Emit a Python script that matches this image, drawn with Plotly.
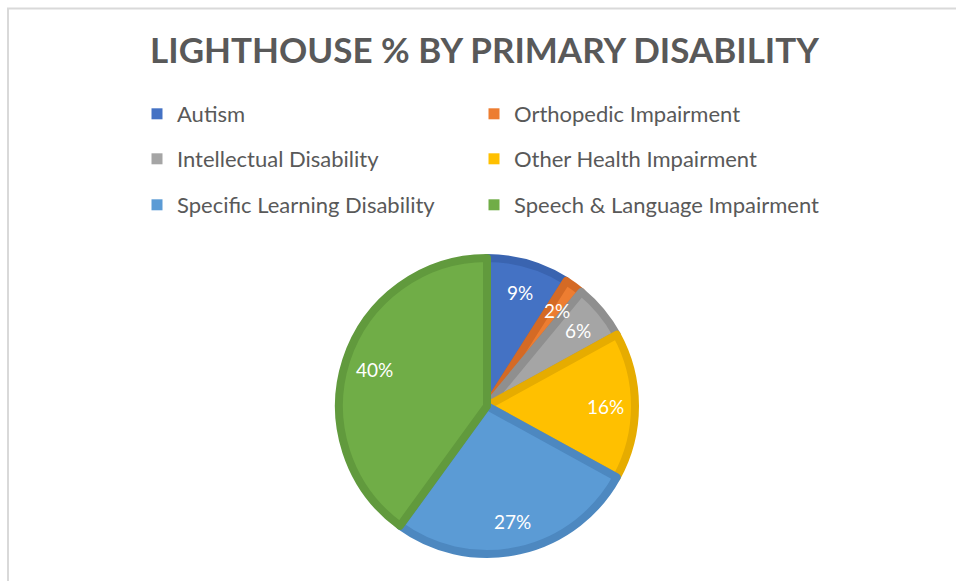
import math
import plotly.graph_objects as go

# ---- data ----
categories = [
    "Autism",
    "Orthopedic Impairment",
    "Intellectual Disability",
    "Other Health Impairment",
    "Specific Learning Disability",
    "Speech & Language Impairment",
]
percent_values = [9, 2, 6, 16, 27, 40]
fill_colors = ["#4472C4", "#ED7D31", "#A5A5A5", "#FFC000", "#5B9BD5", "#70AD47"]
edge_colors = ["#3A64B0", "#D46A25", "#8F8F8F", "#E6AC00", "#4D88C0", "#619A3D"]
title_text = "LIGHTHOUSE % BY PRIMARY DISABILITY"

W, H = 956, 581
TEXT_GREY = "#595959"

# pie geometry (pixels)
cx, cy, R = 487, 406, 148
edge_w = 8

dom_x = [(cx - R) / W, (cx + R) / W]
dom_y = [(H - cy - R) / H, (H - cy + R) / H]

fig = go.Figure()
fig.add_trace(go.Pie(
    labels=categories,
    values=percent_values,
    sort=False,
    direction="clockwise",
    rotation=0,
    marker=dict(colors=fill_colors, line=dict(color=edge_colors, width=edge_w)),
    textinfo="none",
    hoverinfo="label+percent",
    showlegend=False,
    domain=dict(x=dom_x, y=dom_y),
))

# data labels placed at each slice's mid-angle
total = sum(percent_values)
cum = 0
annotations = []
for v in percent_values:
    mid = (cum + v / 2) / total * 2 * math.pi
    cum += v
    r = 0.8 * R
    px = cx + r * math.sin(mid)
    py = cy - r * math.cos(mid)
    annotations.append(dict(
        x=px / W, y=1 - py / H, xref="paper", yref="paper",
        text=f"{v}%", showarrow=False,
        font=dict(family="Lato", size=19, color="white"),
        xanchor="center", yanchor="middle",
    ))

# legend: one marker-only entry per category, laid out 3 rows x 2 columns
row_y = [114, 159, 205]
col_x = [137, 474]
legend_layouts = {}
for i, (name, color) in enumerate(zip(categories, fill_colors)):
    lname = "legend" if i == 0 else f"legend{i + 1}"
    fig.add_trace(go.Scatter(
        x=[None], y=[None], mode="markers", name=name,
        marker=dict(symbol="square", size=11, color=color),
        legend=lname, hoverinfo="skip",
    ))
    legend_layouts[lname] = dict(
        orientation="h", xanchor="left", yanchor="middle",
        x=col_x[i % 2] / W, y=1 - row_y[i // 2] / H,
        font=dict(family="Lato", size=22, color=TEXT_GREY),
        bgcolor="rgba(0,0,0,0)", itemclick=False, itemdoubleclick=False,
    )

fig.update_layout(
    width=W, height=H,
    margin=dict(l=0, r=0, t=0, b=0),
    paper_bgcolor="white", plot_bgcolor="white",
    xaxis=dict(visible=False), yaxis=dict(visible=False),
    title=dict(
        text=f"<b>{title_text}</b>", x=484.5 / W, xanchor="center",
        y=1 - 51 / H, yanchor="middle", yref="paper",
        font=dict(family="Lato", size=35, color=TEXT_GREY),
    ),
    annotations=annotations,
    shapes=[dict(type="rect", xref="paper", yref="paper",
                 x0=8 / W, x1=1.02, y0=-0.02, y1=1 - 8.5 / H,
                 line=dict(color="#D9D9D9", width=2), fillcolor="rgba(0,0,0,0)",
                 layer="below")],
    **legend_layouts,
)

fig.write_html("out.html", config={"displayModeBar": False},
               post_script="document.body.style.margin='0';")
